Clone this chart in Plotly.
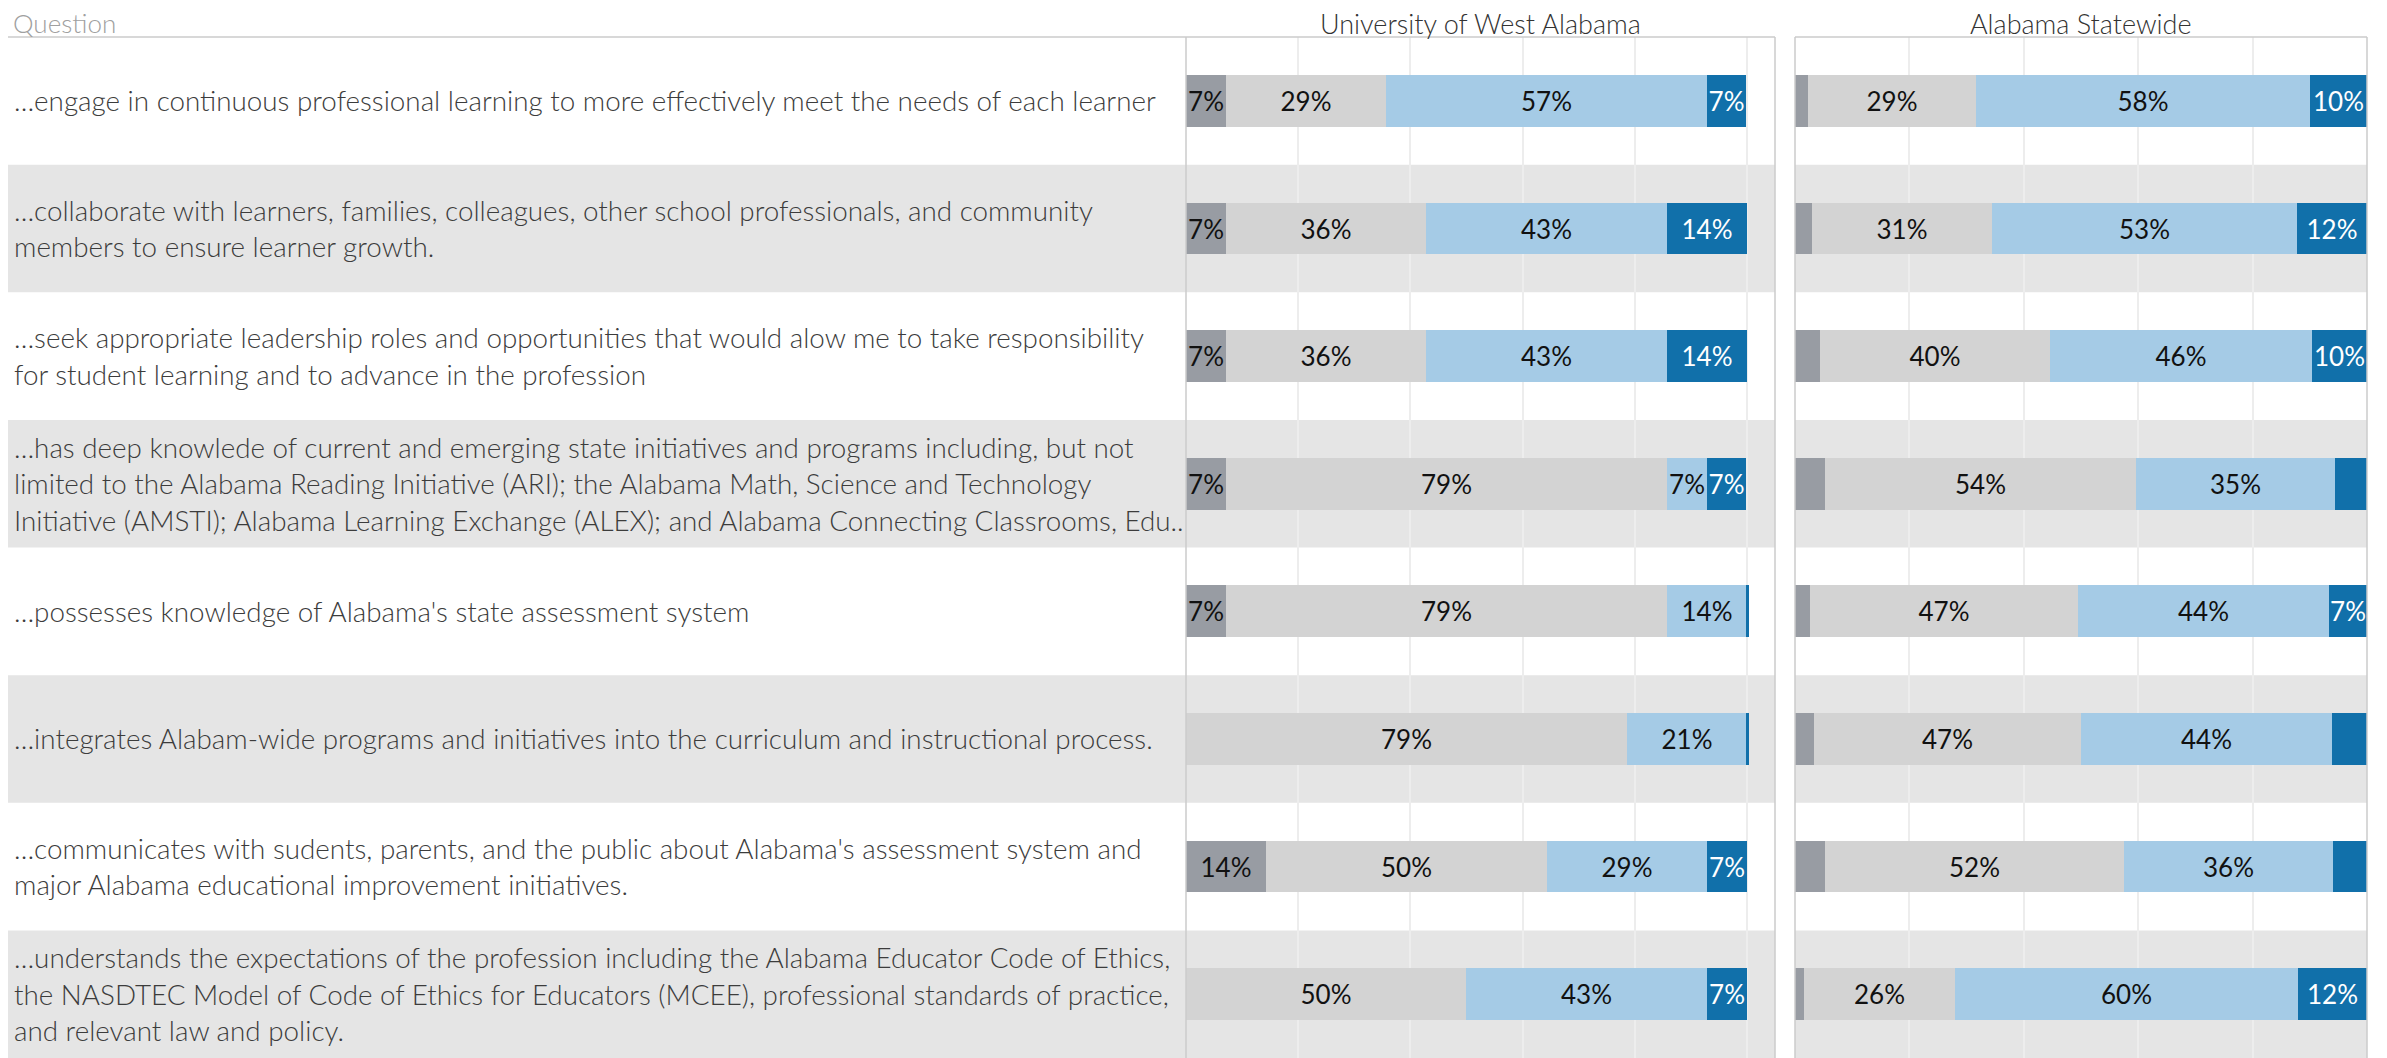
import plotly.graph_objects as go

# ---------------- data ----------------
questions = [
    ["…engage in continuous professional learning to more effectively meet the needs of each learner"],
    ["…collaborate with learners, families, colleagues, other school professionals, and community",
     "members to ensure learner growth."],
    ["…seek appropriate leadership roles and opportunities that would alow me to take responsibility",
     "for student learning and to advance in the profession"],
    ["…has deep knowlede of current and emerging state initiatives and programs including, but not",
     "limited to the Alabama Reading Initiative (ARI); the Alabama Math, Science and Technology",
     "Initiative (AMSTI); Alabama Learning Exchange (ALEX); and Alabama Connecting Classrooms, Edu.."],
    ["…possesses knowledge of Alabama's state assessment system"],
    ["…integrates Alabam-wide programs and initiatives into the curriculum and instructional process."],
    ["…communicates with sudents, parents, and the public about Alabama's assessment system and",
     "major Alabama educational improvement initiatives."],
    ["…understands the expectations of the profession including the Alabama Educator Code of Ethics,",
     "the NASDTEC Model of Code of Ethics for Educators (MCEE), professional standards of practice,",
     "and relevant law and policy."],
]

levels = ["Strongly Disagree", "Disagree", "Agree", "Strongly Agree"]

# University of West Alabama (percent)
uwa_sd = [7.1, 7.1, 7.1, 7.1, 7.1, 0.0, 14.3, 0.0]
uwa_d = [28.6, 35.7, 35.7, 78.6, 78.6, 78.6, 50.0, 50.0]
uwa_a = [57.1, 42.9, 42.9, 7.1, 14.3, 21.4, 28.6, 42.9]
uwa_sa = [7.1, 14.3, 14.3, 7.1, 0.3, 0.3, 7.1, 7.1]

# Alabama Statewide (percent)
st_sd = [2.3, 3.0, 4.3, 5.2, 2.6, 3.3, 5.2, 1.6]
st_d = [29.3, 31.4, 40.2, 54.4, 46.8, 46.7, 52.4, 26.4]
st_a = [58.4, 53.4, 45.9, 34.8, 44.0, 43.8, 36.4, 60.0]
st_sa = [10.0, 12.2, 9.6, 5.6, 6.6, 6.2, 6.0, 12.0]

panel_titles = ["University of West Alabama", "Alabama Statewide"]
header_label = "Question"

# ---------------- styling ----------------
OFF = 8                      # page body margin of the html page
W, H = 2387 - OFF, 1058 - OFF
TOP = 37 - OFF
FONT = "Lato"
FS = 27.8
colors = ["#989ca3", "#d3d3d3", "#a5cbe6", "#1170aa"]
text_colors = ["#111111", "#111111", "#111111", "#ffffff"]
BAND = "#e5e5e5"
BORDER = "#cbcbcb"
GRID = "#ededed"

L1, R1 = 1186 - OFF, 1775 - OFF
L2, R2 = 1795 - OFF, 2367 - OFF
px = lambda v: v / W

n = len(questions)
ys = list(range(n))


def labels(vals):
    return [f"{round(v)}%" if v >= 6.3 else "" for v in vals]


fig = go.Figure()
panels = [("x", [uwa_sd, uwa_d, uwa_a, uwa_sa]), ("x2", [st_sd, st_d, st_a, st_sa])]
for xa, series in panels:
    for k, vals in enumerate(series):
        fig.add_trace(go.Bar(
            x=vals, y=ys, orientation="h", xaxis=xa, yaxis="y",
            name=levels[k], marker=dict(color=colors[k], line=dict(width=0)),
            width=0.405, text=labels(vals), textposition="inside",
            insidetextanchor="middle", textangle=0, constraintext="none",
            insidetextfont=dict(family=FONT, size=26, color=text_colors[k]),
            showlegend=False, hoverinfo="x+y",
        ))

shapes = []
# alternating grey bands
for i in ys:
    if i % 2 == 1:
        for a, b in [(0, R1), (L2, R2)]:
            shapes.append(dict(type="rect", xref="paper", yref="y",
                               x0=px(a), x1=px(b), y0=i - 0.5, y1=i + 0.5,
                               fillcolor=BAND, line=dict(width=0), layer="below"))
# borders
bl = dict(color=BORDER, width=1.5)
shapes += [
    dict(type="line", xref="paper", yref="paper", x0=-0.01, x1=px(R1), y0=1, y1=1, line=bl),
    dict(type="line", xref="paper", yref="paper", x0=px(L1), x1=px(L1), y0=0, y1=1, line=bl),
    dict(type="line", xref="paper", yref="paper", x0=px(R1), x1=px(R1), y0=0, y1=1, line=bl),
    dict(type="line", xref="paper", yref="paper", x0=px(L2), x1=px(R2), y0=1, y1=1, line=bl),
    dict(type="line", xref="paper", yref="paper", x0=px(L2), x1=px(L2), y0=0, y1=1, line=bl),
    dict(type="line", xref="paper", yref="paper", x0=px(R2), x1=px(R2), y0=0, y1=1, line=bl),
]

annotations = []
plot_h = H - TOP
row_h = plot_h / n
line_gap = 36.5 / row_h
for i, lines in enumerate(questions):
    m = len(lines)
    for k, t in enumerate(lines):
        annotations.append(dict(
            text=t, xref="paper", yref="y", x=px(12 - OFF), y=i + (k - (m - 1) / 2) * line_gap,
            xanchor="left", yanchor="middle", showarrow=False,
            font=dict(family=FONT, size=FS, color="#3c3c3c", weight=300)))

head_y = 1 + (TOP - 15) / plot_h   # header text centre, 15 px below the figure top
annotations.append(dict(text=header_label, xref="paper", yref="paper", x=px(12 - OFF), y=head_y,
                        xanchor="left", yanchor="middle", showarrow=False, borderpad=0,
                        font=dict(family=FONT, size=26, color="#a0a0a0", weight=300)))
for title, (a, b) in zip(panel_titles, [(L1, R1), (L2, R2)]):
    annotations.append(dict(text=title, xref="paper", yref="paper", x=px((a + b) / 2), y=head_y,
                            xanchor="center", yanchor="middle", showarrow=False, borderpad=0,
                            font=dict(family=FONT, size=27, color="#333333", weight=300)))

axis_common = dict(showticklabels=False, zeroline=False, showline=False,
                   showgrid=True, gridcolor=GRID, gridwidth=2, dtick=20, tick0=0,
                   fixedrange=True, ticks="")
fig.update_layout(
    width=W, height=H,
    margin=dict(l=0, r=0, t=TOP, b=0, pad=0),
    paper_bgcolor="white", plot_bgcolor="rgba(0,0,0,0)",
    barmode="stack", bargap=0,
    xaxis=dict(domain=[px(L1), px(R1)], range=[0, 105], anchor="y", **axis_common),
    xaxis2=dict(domain=[px(L2), px(R2)], range=[0, 100], anchor="y", **axis_common),
    yaxis=dict(domain=[0, 1], range=[n - 0.5, -0.5], showticklabels=False, showgrid=False,
               zeroline=False, showline=False, fixedrange=True, anchor="x"),
    shapes=shapes, annotations=annotations,
    font=dict(family=FONT, size=FS, color="#333333"),
)

fig.write_html("out.html")
